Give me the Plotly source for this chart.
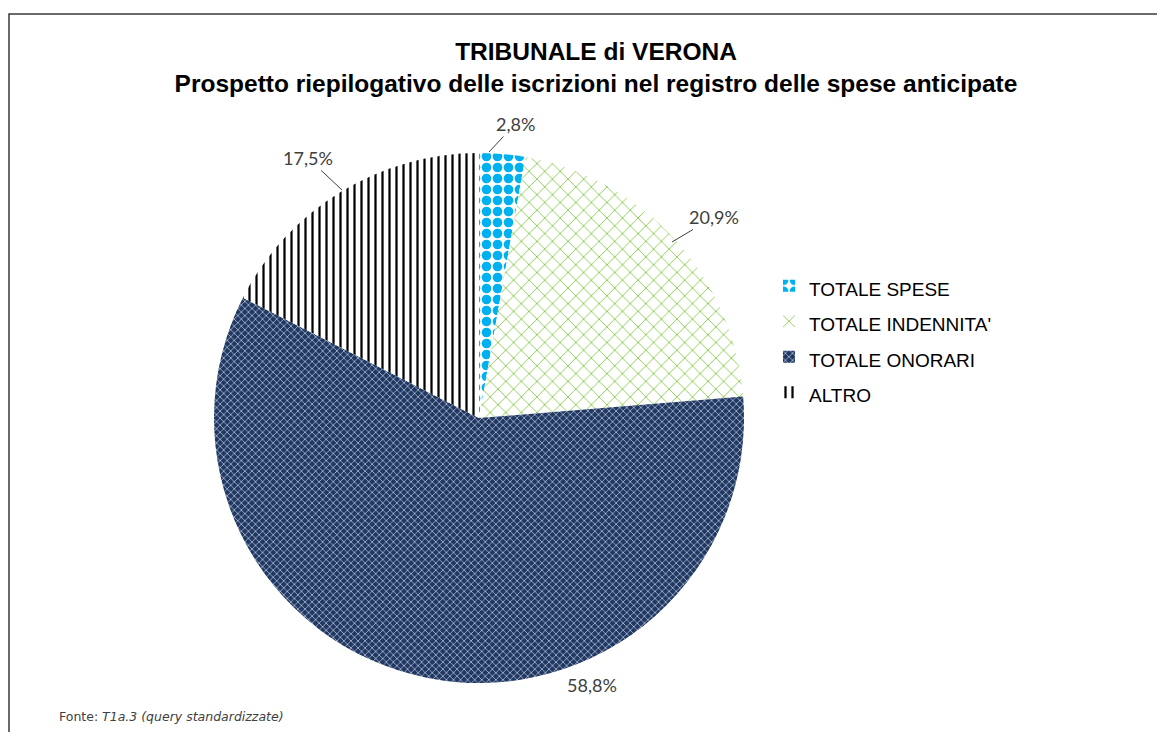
import plotly.graph_objects as go

W, H = 1165, 740
OFF = 8  # default body margin of the html page

categories = ["TOTALE SPESE", "TOTALE INDENNITA'", "TOTALE ONORARI", "ALTRO"]
shares = [2.8, 20.9, 58.8, 17.5]

title_lines = ["TRIBUNALE di VERONA",
               "Prospetto riepilogativo delle iscrizioni nel registro delle spese anticipate"]

FW, FH = W - 2 * OFF, H - 2 * OFF


def px_x(x):
    return (x - OFF) / FW


def px_y(y):
    return 1 - (y - OFF) / FH


# pie placed in window pixels: centre (479, 418), radius 265
cx, cy, r = 479, 418, 265

fig = go.Figure()
fig.add_trace(go.Pie(
    labels=[f"<span style='font-size:19px'>{c}</span>" for c in categories],
    values=shares,
    sort=False,
    direction="clockwise",
    rotation=0,
    textinfo="none",
    hoverinfo="label+percent",
    domain=dict(x=[px_x(cx - r), px_x(cx + r)], y=[px_y(cy + r), px_y(cy - r)]),
    marker=dict(
        colors=["#00B0F0", "#92D050", "#1F3864", "#000000"],
        line=dict(width=0),
        pattern=dict(
            shape=[".", "x", "x", "|"],
            fgcolor=["#00B0F0", "#8CCB50", "#FFFFFF", "#000000"],
            bgcolor=["#FFFFFF", "#FFFFFF", "#1F3864", "#FFFFFF"],
            fgopacity=1,
            size=[11, 11, 5, 7],
            solidity=[0.6, 0.16, 0.2, 0.32],
            fillmode="overlay",
        ),
    ),
))

# data labels with leader lines (Excel style)
lab = [f"{v:.1f}%".replace(".", ",") for v in shares]
label_pos = [
    # (point x, point y, text dx, text dy, arrow)
    (489, 152, 26, -28, True),
    (672, 242, 42, -25, True),
    (592, 698, 0, 0, False),
    (342, 190, -34, -32, True),
]
for txt, (x, y, dx, dy, arr) in zip(lab, label_pos):
    fig.add_annotation(
        x=px_x(x), y=px_y(y), xref="paper", yref="paper",
        text=txt, showarrow=arr, ax=dx, ay=dy,
        arrowhead=0, arrowwidth=1, arrowcolor="#404040",
        font=dict(family="Lato, Carlito, Liberation Sans", size=18, color="#404040"),
    )

# footer
fig.add_annotation(
    x=px_x(57), y=px_y(716), xref="paper", yref="paper",
    xanchor="left", yanchor="middle", showarrow=False,
    text="Fonte: <i>T1a.3 (query standardizzate)</i>",
    font=dict(family="DejaVu Sans, Verdana", size=12.5, color="#404040"),
)

# outer frame of the chart area
fig.add_shape(type="rect", xref="paper", yref="paper",
              x0=px_x(9), y0=-0.05, x1=1.05, y1=px_y(14),
              line=dict(color="#3a3a3a", width=1.5))

fig.update_layout(
    width=FW, height=FH,
    margin=dict(l=0, r=0, t=0, b=0),
    paper_bgcolor="white",
    plot_bgcolor="white",
    title=dict(
        text="<br>".join(f"<b>{t}</b>" for t in title_lines),
        x=px_x(596), xanchor="center",
        y=px_y(60), yanchor="middle",
        font=dict(family="Liberation Sans, Arial", size=24.5, color="#000000"),
    ),
    legend=dict(
        x=px_x(769), y=px_y(263), xanchor="left", yanchor="top",
        font=dict(family="Liberation Sans, Arial", size=25, color="#000000"),
        bgcolor="rgba(0,0,0,0)",
        itemwidth=30,
    ),
)

fig.write_html("out.html")
